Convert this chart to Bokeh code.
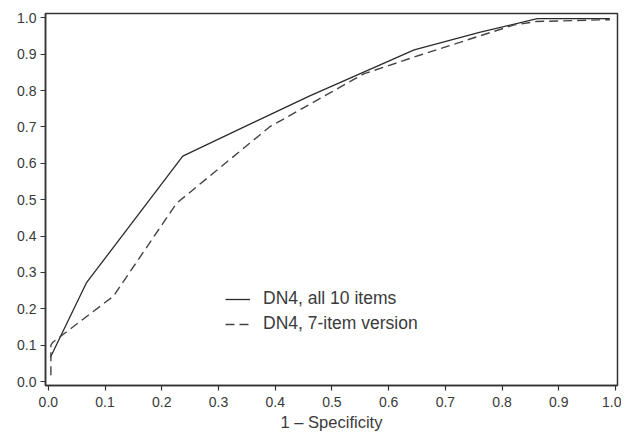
from bokeh.plotting import figure
from bokeh.models import Range1d, Legend, LegendItem, FixedTicker
from bokeh.embed import file_html
from bokeh.resources import INLINE

# Data
all10_x = [0.0035, 0.067, 0.237, 0.46, 0.645, 0.76, 0.862, 0.99]
all10_y = [0.066, 0.271, 0.620, 0.785, 0.912, 0.960, 0.998, 0.998]

seven_x = [0.0045, 0.0045, 0.008, 0.115, 0.226, 0.39, 0.556, 0.66, 0.82, 0.86, 0.99]
seven_y = [0.017, 0.100, 0.108, 0.235, 0.490, 0.700, 0.846, 0.900, 0.980, 0.990, 0.995]

ticks = [0.0, 0.1, 0.2, 0.3, 0.4, 0.5, 0.6, 0.7, 0.8, 0.9, 1.0]
x_label = "1 \u2013 Specificity"
label_all10 = "DN4, all 10 items"
label_seven = "DN4, 7-item version"

FONT = "Liberation Sans"
TXT = "#3a3a3a"
LINE = "#333333"

p = figure(width=621, height=438, output_backend="svg", toolbar_location=None,
           x_range=Range1d(-0.005, 1.0035), y_range=Range1d(-0.011, 1.012),
           min_border_left=45, min_border_right=4, min_border_top=13, min_border_bottom=53)

p.grid.visible = False
p.outline_line_color = LINE
p.outline_line_width = 1.5
p.background_fill_color = "white"
p.border_fill_color = "white"

r1 = p.line(all10_x, all10_y, line_color="#2b2b2b", line_width=1.3)
r2 = p.line(seven_x, seven_y, line_color="#444444", line_width=1.4, line_dash="9 5")

for ax in (p.xaxis[0], p.yaxis[0]):
    ax.ticker = FixedTicker(ticks=ticks)
    ax.axis_line_color = LINE
    ax.axis_line_width = 1.5
    ax.major_tick_line_color = LINE
    ax.major_tick_line_width = 1.2
    ax.major_tick_out = 5
    ax.major_tick_in = 0
    ax.minor_tick_line_color = None
    ax.major_label_text_font = FONT
    ax.major_label_text_font_size = "14px"
    ax.major_label_text_color = TXT

p.xaxis[0].major_label_standoff = 6
p.yaxis[0].major_label_standoff = 4
p.xaxis[0].major_label_overrides = {t: f"{t:.1f}" for t in ticks}
p.yaxis[0].major_label_overrides = {t: f"{t:.1f}" for t in ticks}

p.xaxis[0].axis_label = x_label
p.xaxis[0].axis_label_text_font = FONT
p.xaxis[0].axis_label_text_font_size = "16.5px"
p.xaxis[0].axis_label_text_font_style = "normal"
p.xaxis[0].axis_label_text_color = TXT
p.xaxis[0].axis_label_standoff = 3

legend = Legend(items=[LegendItem(label=label_all10, renderers=[r1]),
                       LegendItem(label=label_seven, renderers=[r2])],
                location=(180, 51), border_line_color=None, background_fill_alpha=0,
                label_text_font=FONT, label_text_font_size="17.5px", label_text_color=TXT,
                glyph_width=25, glyph_height=20, label_height=20, spacing=4, padding=4,
                margin=0, label_standoff=13)
p.add_layout(legend)

open("out.html", "w").write(file_html(p, INLINE))
